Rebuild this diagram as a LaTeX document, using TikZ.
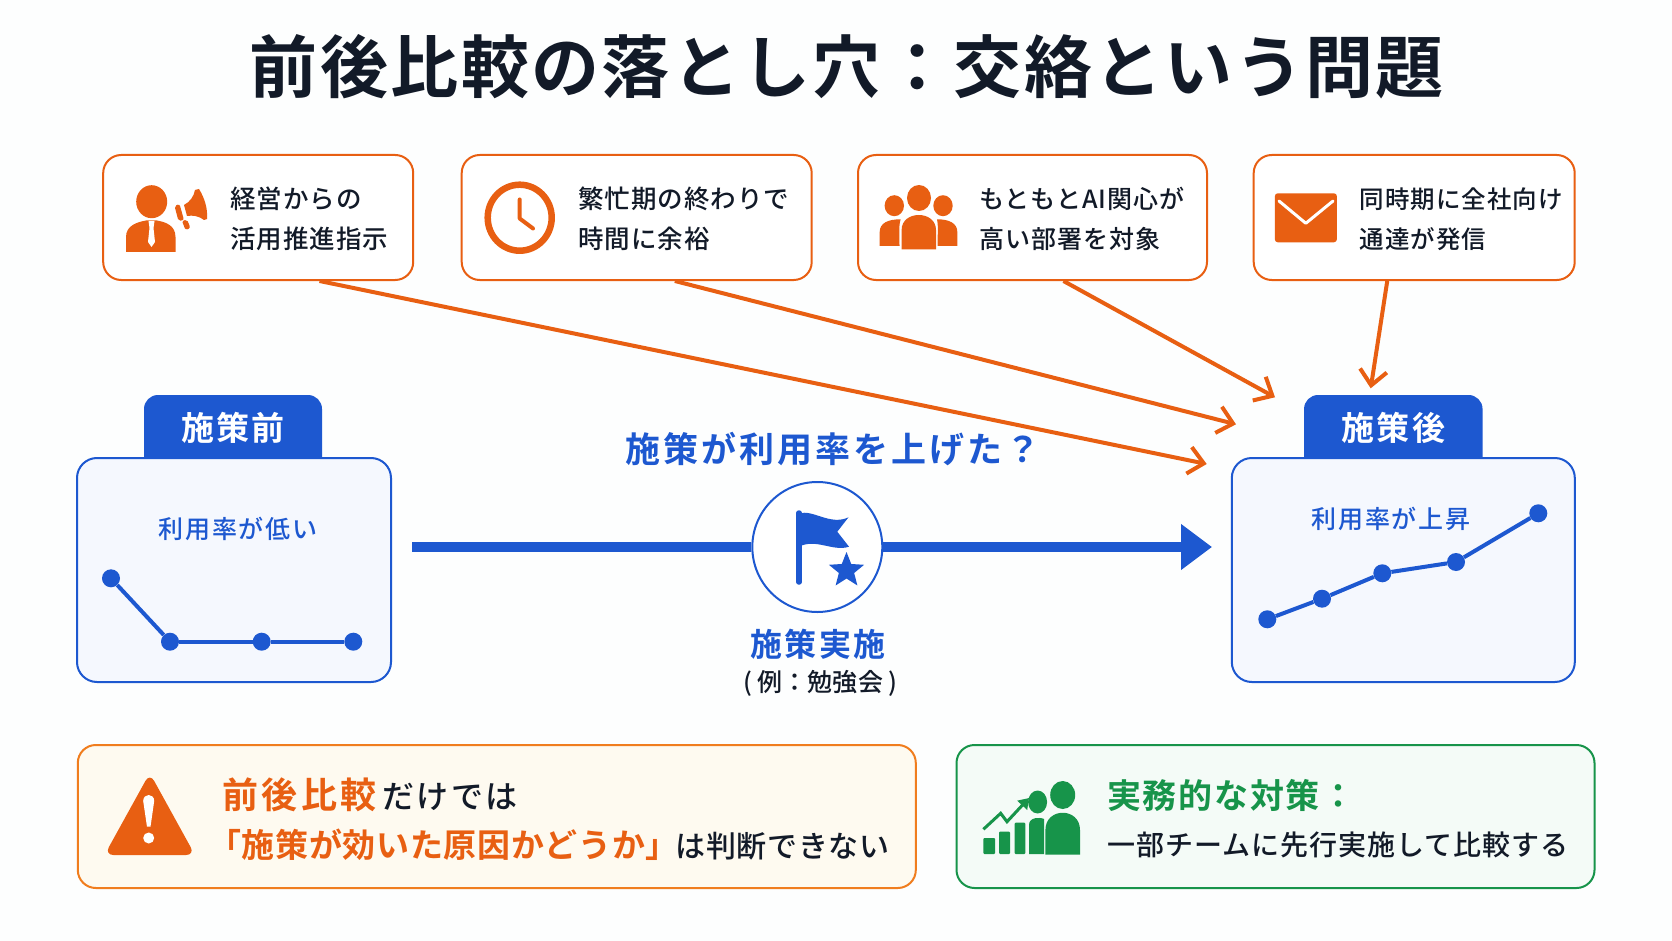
\documentclass[tikz,border=0pt]{standalone}
\usepackage{fontspec}
\setmainfont{Noto Sans CJK JP}[UprightFont=* Medium,BoldFont=* Bold]
\usetikzlibrary{arrows.meta,shapes.geometric}
\definecolor{inkdark}{HTML}{121A28}
\definecolor{accorange}{HTML}{E85F12}
\definecolor{accblue}{HTML}{1D58D0}
\definecolor{accgreen}{HTML}{17944A}
\definecolor{panelfill}{HTML}{F5F8FE}
\definecolor{warnfill}{HTML}{FEFAF0}
\definecolor{warnline}{HTML}{F07D1E}
\definecolor{okfill}{HTML}{F4FBF7}
\definecolor{pagefill}{HTML}{FDFEFE}
\newcommand{\jpsize}[2]{\fontsize{#1}{#1}\selectfont\addfontfeature{LetterSpace=#2}}
\newcommand{\jpbold}[2]{\fontsize{#1}{#1}\selectfont\bfseries\addfontfeature{LetterSpace=#2}}
\tikzset{
    topbox/.style={draw=accorange,line width=2pt,fill=white,rounded corners=18pt,inner sep=0pt,minimum height=125pt},
    toptext/.style={anchor=west,inner sep=0pt,align=left,text=inkdark,font=\fontsize{25.5}{40}\selectfont\addfontfeature{LetterSpace=4}},
    panel/.style={draw=accblue,line width=2pt,fill=panelfill,rounded corners=20pt,inner sep=0pt,minimum height=224pt},
    tabbox/.style={fill=accblue,rounded corners=14pt,inner sep=0pt,minimum height=90pt},
    tabtext/.style={inner sep=0pt,text=white,font=\jpbold{33}{7}},
    paneltext/.style={inner sep=0pt,text=accblue,font=\jpsize{25}{7}},
    dot/.style={circle,fill=accblue,inner sep=0pt,minimum size=18pt},
    chartline/.style={draw=accblue,line width=4pt},
    causearrow/.style={draw=accorange,line width=4pt,-{Straight Barb[length=15pt,width=27pt,line width=4pt]}},
    bottombox/.style={line width=2pt,rounded corners=18pt,inner sep=0pt,minimum height=143pt},
}
\begin{document}
\begin{tikzpicture}[x=1pt,y=-1pt]
        \path[use as bounding box,fill=pagefill] (0,0) rectangle (1672,941);
        \node[inner sep=0pt,text=inkdark,font=\jpbold{68}{3.5}] (title) at (847,67) {前後比較の落とし穴：交絡という問題};

        % cause boxes
        \node[topbox,minimum width=310pt] (box1) at (258.2,217.5) {};
        \node[topbox,minimum width=350pt] (box2) at (636.7,217.5) {};
        \node[topbox,minimum width=349pt] (box3) at (1032.5,217.5) {};
        \node[topbox,minimum width=321pt] (box4) at (1414.2,217.5) {};
        \node[toptext] (text1) at (230,219) {経営からの\\活用推進指示};
        \node[toptext] (text2) at (578,219) {繁忙期の終わりで\\時間に余裕};
        \node[toptext,font=\fontsize{25}{40}\selectfont\addfontfeature{LetterSpace=4}] (text3) at (979,219) {もともとAI関心が\\高い部署を対象};
        \node[toptext,font=\fontsize{24.5}{40}\selectfont\addfontfeature{LetterSpace=4}] (text4) at (1359.5,219) {同時期に全社向け\\通達が発信};

        % person with megaphone
        \path[fill=accorange] (151.7,201.7) ellipse [x radius=15.5,y radius=16.5];
        \path[fill=accorange] (126,252) -- (126,237) .. controls (126,225) and (138,222) .. (146,220.5) -- (157,220.5) .. controls (165,222) and (175.5,225) .. (175.5,237) -- (175.5,252) -- cycle;
        \path[fill=white] (148.5,221) -- (154.5,221) -- (153.5,228) -- (155,242) -- (151.5,247) -- (148,242) -- (149.5,228) -- cycle;
        \path[fill=accorange] (184,205) .. controls (190,202) and (194,196) .. (195,190) -- (199,189) .. controls (204,197) and (208,208) .. (207,219) -- (204,220) .. controls (199,216) and (193,215) .. (187,216) -- cycle;
        \path[fill=accorange,rounded corners=2pt] (174.5,206) -- (179.5,204) -- (184,220) -- (178.5,221) -- cycle;
        \path[fill=accorange,rounded corners=2pt] (182,221) -- (187,219.5) -- (190.5,228) -- (185.5,230) -- cycle;

        % clock
        \path[draw=accorange,line width=6.5pt] (519.7,217.7) ellipse [x radius=32,y radius=33];
        \path[draw=accorange,line width=4pt,line cap=round,line join=round] (519.7,199.5) -- (519.7,218.5) -- (533,228.5);

        % group of people
        \path[fill=accorange] (919,198) ellipse [x radius=12,y radius=13];
        \path[fill=accorange] (894.3,205.7) ellipse [x radius=9.7,y radius=10.5];
        \path[fill=accorange] (943,205.7) ellipse [x radius=9.7,y radius=10.5];
        \path[fill=accorange] (879.7,246) -- (879.7,232) .. controls (879.7,223) and (888,219.3) .. (900.6,219.3) .. controls (898.5,226) and (899.5,235) .. (899.5,246) -- cycle;
        \path[fill=accorange] (957.3,246) -- (957.3,232) .. controls (957.3,223) and (949,219.3) .. (937,219.3) .. controls (938.5,226) and (937.5,235) .. (937.5,246) -- cycle;
        \path[fill=accorange] (901.6,249.3) -- (901.6,230) .. controls (901.6,210) and (936,210) .. (936,230) -- (936,249.3) -- cycle;

        % envelope
        \path[fill=accorange,rounded corners=3pt] (1274.8,193.3) rectangle (1336.9,242.3);
        \path[draw=white,line width=3pt,line cap=round,line join=round] (1279,201) -- (1305.8,223.3) -- (1333,201);

        % before panel
        \node[tabbox,minimum width=178pt] (tabbefore) at (233,440) {};
        \node[panel,minimum width=314pt] (before) at (234,570) {};
        \node[tabtext] (tabbeforetext) at (233,428) {施策前};
        \node[paneltext] (beforetext) at (238,529) {利用率が低い};
        \node[dot] (b1) at (111,578.3) {};
        \node[dot] (b2) at (170,641.7) {};
        \node[dot] (b3) at (261.7,641.7) {};
        \node[dot] (b4) at (353.3,641.7) {};
        \path[chartline] (b1) -- (b2);
        \path[chartline] (b2) -- (b3);
        \path[chartline] (b3) -- (b4);

        % after panel
        \node[tabbox,minimum width=178.5pt] (tabafter) at (1393.3,440) {};
        \node[panel,minimum width=343pt] (after) at (1403.3,570) {};
        \node[tabtext] (tabaftertext) at (1393.5,428) {施策後};
        \node[paneltext] (aftertext) at (1391,519) {利用率が上昇};
        \node[dot] (a1) at (1267.3,619.3) {};
        \node[dot] (a2) at (1322,598.7) {};
        \node[dot] (a3) at (1382.3,573.3) {};
        \node[dot] (a4) at (1456,562) {};
        \node[dot] (a5) at (1538.3,513.3) {};
        \path[chartline] (a1) -- (a2);
        \path[chartline] (a2) -- (a3);
        \path[chartline] (a3) -- (a4);
        \path[chartline] (a4) -- (a5);

        % middle
        \node[inner sep=0pt,text=accblue,font=\jpbold{35}{8.5}] (question) at (833,449) {施策が利用率を上げた？};
        \coordinate (mainstart) at (412,547);
        \coordinate (maintip) at (1212,547);
        \node[circle,draw=accblue,line width=2pt,fill=white,inner sep=0pt,minimum size=130pt] (action) at (817.3,547) {};
        \path[draw=accblue,line width=10pt] (mainstart) -- (action);
        \path[draw=accblue,line width=10pt,-{Triangle[length=31pt,width=44pt]}] (action) -- (maintip);
        \path[draw=accblue,line width=5.5pt,line cap=round] (799,513) -- (799,582);
        \path[fill=accblue] (799,513.5) .. controls (813,509) and (830,526) .. (848.5,517.3) -- (837.3,531.7) -- (849,546.7) .. controls (833,552) and (816,538) .. (799,546.7) -- cycle;
        \node[star,star points=5,star point ratio=2.3,fill=accblue,inner sep=0pt,minimum size=37pt] (flagstar) at (846.5,570.5) {};
        \node[inner sep=0pt,text=accblue,font=\jpbold{32}{8}] (actiontext) at (818,644) {施策実施};
        \node[inner sep=0pt,text=inkdark,font=\jpsize{25}{1}] (actionnote) at (820,683) {(\hspace{5pt}例：勉強会\hspace{5pt})};

        % arrows from the causes
        \coordinate (tip1) at (1206.7,464);
        \coordinate (tip2) at (1236,424.3);
        \coordinate (tip3) at (1275,397.3);
        \coordinate (tip4) at (1370.7,388.3);
        \path[causearrow] (box1.-46.6) -- (tip1);
        \path[causearrow] (box2.-59.4) -- (tip2);
        \path[causearrow] (box3.-64) -- (tip3);
        \path[causearrow] (box4.-113) -- (tip4);

        % warning box
        \node[bottombox,draw=warnline,fill=warnfill,minimum width=838pt] (warnbox) at (496.8,816.5) {};
        \path[fill=accorange,rounded corners=9pt] (149.8,773) -- (195,855) -- (104.5,855) -- cycle;
        \path[fill=white] (143.2,801) .. controls (143.2,793) and (154.2,793) .. (154.2,801) -- (150.5,826.7) -- (147,826.7) -- cycle;
        \path[fill=white] (148.7,838) circle [radius=5.5];
        \node[anchor=west,inner sep=0pt,text=accorange] (warnline1) at (222,795) {\jpbold{36}{9.5}前後比較\hspace{6pt}\jpsize{32}{7.5}\color{inkdark}\mdseries だけでは};
        \node[anchor=west,inner sep=0pt,text=accorange] (warnline2) at (208,845) {\jpbold{33}{2}「施策が効いた原因かどうか」\hspace{-3pt}\jpsize{30}{2}\color{inkdark}\mdseries は判断できない};

        % practical box
        \node[bottombox,draw=accgreen,fill=okfill,minimum width=638pt] (okbox) at (1275.5,816.5) {};
        \path[fill=accgreen,rounded corners=1pt] (983.4,838) rectangle (995,854);
        \path[fill=accgreen,rounded corners=1pt] (999,831.7) rectangle (1010,854);
        \path[fill=accgreen,rounded corners=1pt] (1014.6,822.7) rectangle (1025.4,854);
        \path[fill=accgreen] (1037.6,802) ellipse [x radius=9.5,y radius=11.5];
        \path[fill=accgreen] (1029,854) -- (1029,825) .. controls (1029,817) and (1040,817) .. (1044,819) -- (1044,854) -- cycle;
        \path[fill=accgreen] (1062.7,795) ellipse [x radius=12.5,y radius=14];
        \path[fill=accgreen] (1045.4,854.5) -- (1045.4,830) .. controls (1045.4,807) and (1080,807) .. (1080,830) -- (1080,854.5) -- cycle;
        \path[draw=accgreen,line width=3pt,-{Triangle[length=10pt,width=13pt]}] (983.4,829.3) -- (1000.7,813.3) -- (1007,821.7) -- (1029,798);
        \node[anchor=west,inner sep=0pt,text=accgreen,font=\jpbold{34}{5}] (okline1) at (1107,795) {実務的な対策：};
        \node[anchor=west,inner sep=0pt,text=inkdark,font=\jpsize{28}{3.5}] (okline2) at (1107,845) {一部チームに先行実施して比較する};
    \end{tikzpicture}
\end{document}
